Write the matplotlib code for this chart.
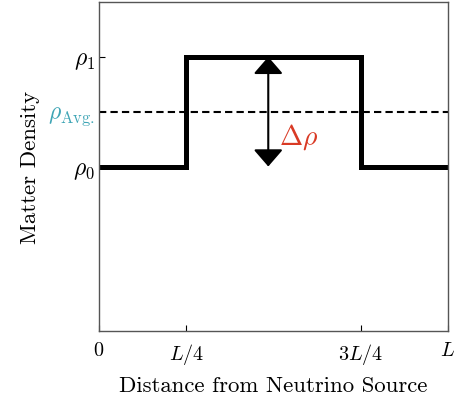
import matplotlib
matplotlib.use("Agg")
import matplotlib.pyplot as plt
from matplotlib.patches import FancyArrowPatch

plt.rcParams['font.family'] = 'cmr10'
plt.rcParams['mathtext.fontset'] = 'cm'
plt.rcParams['axes.unicode_minus'] = False

# data
x_edges = [0.0, 0.25, 0.75, 1.0]
density = [1.5, 2.5, 1.5, 1.5]
rho0 = 1.5
rho1 = 2.5
rho_avg = 2.0
arrow_x = 0.485
xtick_pos = [0.0, 0.25, 0.75, 1.0]
xtick_labels = [r'$0$', r'$L/4$', r'$3L/4$', r'$L$']
ytick_pos = [rho0, rho_avg, rho1]
ytick_labels = [r'$\rho_0$', r'$\rho_{\mathrm{Avg.}}$', r'$\rho_1$']

fig = plt.figure(figsize=(4.59, 4.02), dpi=100)
ax = fig.add_axes([99/459, 1-332/402, 349/459, 329/402])

ax.plot(x_edges, density, drawstyle='steps-post', color='black', lw=3.6, solid_joinstyle='miter')
ax.axhline(rho_avg, color='black', lw=1.5, ls=(0, (3.5, 2)))

arr = FancyArrowPatch((arrow_x, rho0), (arrow_x, rho1),
                      arrowstyle='<|-|>,head_length=0.75,head_width=0.65',
                      mutation_scale=14, color='black', lw=1.5,
                      shrinkA=0, shrinkB=0)
ax.add_patch(arr)
ax.text(0.515, 1.78, r'$\Delta\rho$', color='#d93a25', fontsize=20,
        va='center', ha='left')

ax.set_xlim(0, 1)
ax.set_ylim(0, 3)
ax.set_xticks(xtick_pos)
ax.set_xticklabels(xtick_labels, fontsize=14.5)
ax.set_yticks(ytick_pos)
ax.set_yticklabels(ytick_labels, fontsize=17)
ax.get_yticklabels()[1].set_color('#3fa5b5')
ax.tick_params(axis='both', direction='in', length=4, width=0.8)
ax.tick_params(axis='x', pad=7)
ax.tick_params(axis='y', pad=3)
ax.yaxis.get_major_ticks()[1].tick1line.set_visible(False)

for s in ax.spines.values():
    s.set_color('#555555')
    s.set_linewidth(1.0)

ax.set_xlabel('Distance from Neutrino Source', fontsize=16.4, labelpad=7)
ax.set_ylabel('Matter Density', fontsize=16.5, labelpad=6)

fig.savefig('out.png', dpi=100)
